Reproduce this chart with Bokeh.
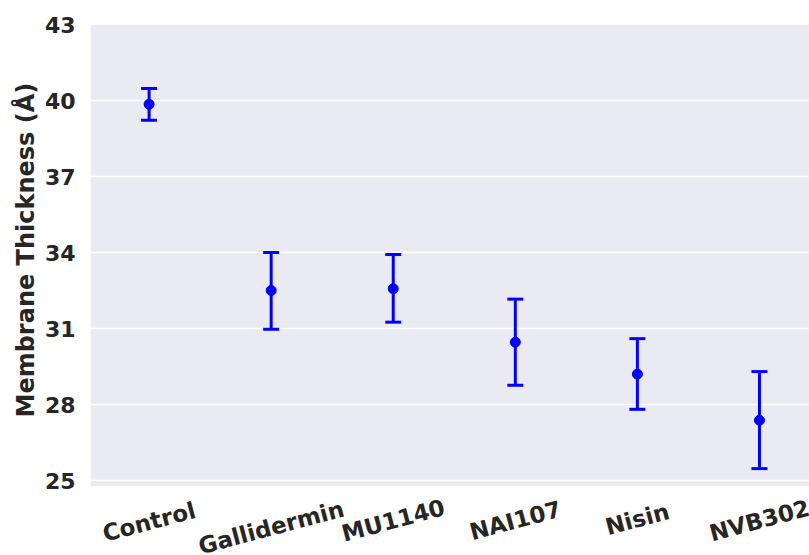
from bokeh.plotting import figure
from bokeh.models import Range1d, FixedTicker, ColumnDataSource, Whisker, BoxAnnotation, Title
from bokeh.core.properties import value
from bokeh.embed import file_html
from bokeh.resources import INLINE

categories = ["Control", "Gallidermin", "MU1140", "NAI107", "Nisin", "NVB302"]
means = [39.85, 32.5, 32.57, 30.46, 29.2, 27.38]
upper = [40.47, 34.0, 33.92, 32.16, 30.6, 29.3]
lower = [39.22, 30.97, 31.25, 28.76, 27.81, 25.47]
y_ticks = [25, 28, 31, 34, 37, 40, 43]
y_label = "Membrane Thickness (Å)"

xs = list(range(len(categories)))
src = ColumnDataSource(dict(x=xs, mean=means, upper=upper, lower=lower))

Y0, Y1 = 24.78, 43.0          # visible axes area
YB = 22.04                    # frame extends below axes area to hold rotated labels
p = figure(width=809, height=555, output_backend="svg", toolbar_location=None,
           x_range=Range1d(-0.48, 5.41), y_range=Range1d(YB, Y1),
           min_border_left=90, min_border_right=0, min_border_top=24, min_border_bottom=0)
p.background_fill_color = "white"
p.border_fill_color = "white"
p.outline_line_color = None

p.add_layout(BoxAnnotation(bottom=Y0, top=Y1, fill_color="#EAEAF2", fill_alpha=1.0,
                           line_color=None, level="image"))

w = Whisker(source=src, base="x", upper="upper", lower="lower",
            line_color="#0000FF", line_width=3)
for head in (w.upper_head, w.lower_head):
    head.size = 16
    head.line_color = "#0000FF"
    head.line_width = 3
p.add_layout(w)
p.scatter("x", "mean", source=src, size=10, color="#0000FF")

p.xgrid.grid_line_color = None
p.ygrid.grid_line_color = "white"
p.ygrid.grid_line_width = 1.5

p.yaxis.ticker = FixedTicker(ticks=y_ticks)
p.xaxis.visible = False

ax = p.yaxis[0]
ax.axis_line_color = None
ax.major_tick_line_color = None
ax.minor_tick_line_color = None
ax.major_label_text_font = "DejaVu Sans"
ax.major_label_text_font_style = "bold"
ax.major_label_text_color = "#262626"
ax.major_label_text_font_size = "22px"
ax.major_label_standoff = 9

p.add_layout(Title(text=y_label, align="left", offset=138,
                   text_font="DejaVu Sans", text_font_style="bold",
                   text_font_size="24px", text_color="#262626", standoff=4), "left")

# rotated, centred category labels below the axes area
lab_src = ColumnDataSource(dict(x=xs, y=[Y0] * len(xs), text=categories,
                                off=[26 + 1.4 * len(c) for c in categories]))
p.text(x="x", y="y", text="text", y_offset="off", source=lab_src,
       angle=0.26, text_align="center", text_baseline="middle",
       text_font=value("DejaVu Sans"), text_font_style="bold",
       text_font_size="23px", text_color="#262626")

open("out.html", "w").write(file_html(p, INLINE))
